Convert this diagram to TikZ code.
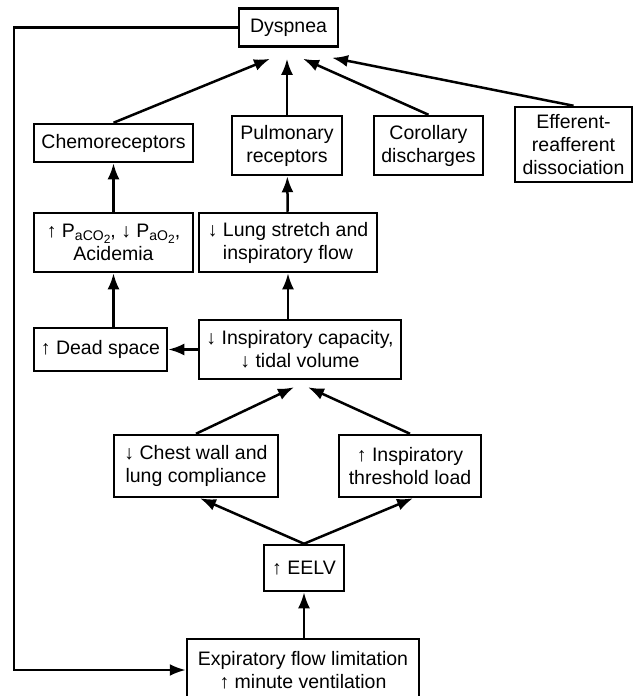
\documentclass[tikz,border=0pt]{standalone}
\usepackage{fontspec}
\setmainfont{Liberation Sans}
\usetikzlibrary{arrows.meta}
\newcommand{\gassub}[2]{\raisebox{-0.3ex}{\fontsize{14}{14}\selectfont #1\raisebox{-0.35ex}{\fontsize{12}{12}\selectfont #2}}}
\tikzset{%
  >={Latex[width=12pt,length=16pt]},
  % Specifications for style of nodes:
        box/.style = {rectangle, draw=black, line width=2.5pt,
                      inner xsep=6pt, inner ysep=2pt, align=center,
                      font=\fontsize{19.5}{23}\selectfont},
    oneline/.style = {box, minimum height=38pt},
    twoline/.style = {box, minimum height=59pt},
  threeline/.style = {box, minimum height=75pt},
}

\begin{document}
\begin{tikzpicture}[x=1pt, y=-1pt, node distance=102pt, line width=2.5pt]
  \useasboundingbox (0,0) rectangle (635,696);
  % Specification of nodes (position, etc.)
  \node (dyspnea)    [oneline, minimum width=99pt] at (288.5,27.5) {Dyspnea};

  \node (pulmonary)  [twoline, minimum width=110pt, below of=dyspnea, xshift=-1.5pt, yshift=-16pt] {Pulmonary\\receptors};
  \node (chemo)      [oneline, minimum width=159pt, left of=pulmonary, xshift=-71.5pt, yshift=2.5pt] {Chemoreceptors};
  \node (corollary)  [twoline, minimum width=109pt, right of=pulmonary, xshift=39.5pt] {Corollary\\discharges};
  \node (efferent)   [threeline, minimum width=117pt, right of=corollary, xshift=43pt, yshift=1pt] {Efferent-\\reafferent\\dissociation};

  \node (stretch)    [twoline, minimum width=178pt, below of=pulmonary, xshift=1pt, yshift=5pt] {↓ Lung stretch and\\inspiratory flow};
  \node (gases)      [twoline, minimum width=159pt, left of=stretch, xshift=-72.5pt]
    {↑ P\gassub{aCO}{2}, ↓ P\gassub{aO}{2},\\Acidemia};

  \node (capacity)   [twoline, minimum width=202pt, below of=stretch, xshift=12pt, yshift=-5pt] {↓ Inspiratory capacity,\\↓ tidal volume};
  \node (deadspace)  [oneline, minimum width=133pt, minimum height=43pt, left of=capacity, xshift=-97.5pt] {↑ Dead space};

  \node (chestwall)  [twoline, minimum width=164pt, minimum height=62pt, below of=capacity, xshift=-104pt, yshift=-14.5pt] {↓ Chest wall and\\lung compliance};
  \node (threshold)  [twoline, minimum width=142pt, minimum height=62pt, right of=chestwall, xshift=112pt] {↑ Inspiratory\\threshold load};

  \node (eelv)       [oneline, minimum width=80pt, minimum height=46pt, below of=chestwall, xshift=108pt] {↑ EELV};
  \node (expiratory) [twoline, minimum width=232pt, minimum height=62pt, below of=eelv, xshift=-1pt] {Expiratory flow limitation\\↑ minute ventilation};

  \coordinate (loopleft) at (14,27.5);

  % Specification of lines between nodes specified above
  \draw[->]   (chemo.north) -- ([xshift=-18.5pt, yshift=-11pt]dyspnea.south);
  \draw[->]   (pulmonary.north) -- ([xshift=-1.5pt, yshift=-11pt]dyspnea.south);
  \draw[->]   (corollary.north) -- ([xshift=14.5pt, yshift=-11pt]dyspnea.south);
  \draw[->]   (efferent.north) -- ([xshift=43.5pt, yshift=-10pt]dyspnea.south);

  \draw[->]   (gases) -- (chemo);
  \draw[->]   (stretch) -- (pulmonary);
  \draw[->]   (gases.south |- deadspace.north) -- (gases.south);
  \draw[->]   (stretch.south |- capacity.north) -- (stretch.south);
  \draw[->]   (capacity) -- (deadspace);

  \draw[->]   (chestwall.north) -- ([xshift=-6pt, yshift=-7pt]capacity.south);
  \draw[->]   (threshold.north) -- ([xshift=8pt, yshift=-7pt]capacity.south);
  \draw[->]   (eelv.north) -- ([xshift=4pt]chestwall.south);
  \draw[->]   (eelv.north) -- ([xshift=3pt]threshold.south);
  \draw[->]   (eelv.south |- expiratory.north) -- (eelv.south);

  % feedback loop
  \draw[->]   (dyspnea.west) -- (loopleft) |- (expiratory.west);
\end{tikzpicture}
\end{document}
